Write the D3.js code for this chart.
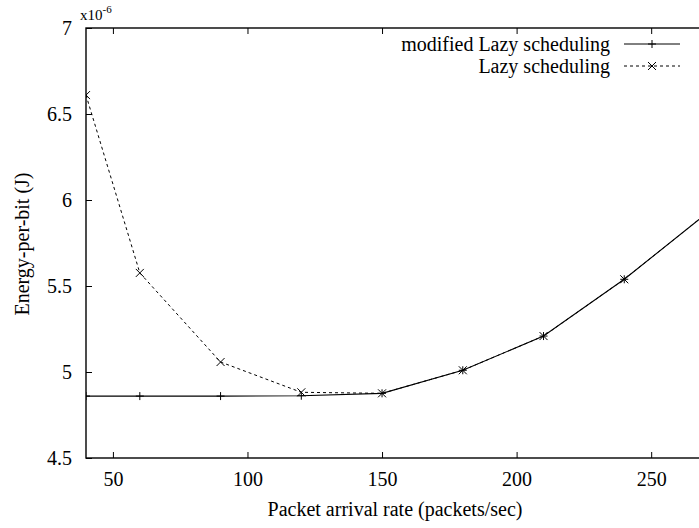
<!DOCTYPE html>
<html><head><meta charset="utf-8">
<script src="https://cdn.jsdelivr.net/npm/d3@7"></script>
<style>body{margin:0;background:#fff}svg{display:block}svg text{font-family:"Liberation Serif","Times New Roman",serif !important;fill:#000}</style>
</head><body><svg id="c" width="699" height="528" style="font-family:'Liberation Serif',serif"></svg>
<script>
const rates = [40, 60, 90, 120, 150, 180, 210, 240, 270];
const modifiedLazy = [4.86, 4.86, 4.86, 4.862, 4.876, 5.01, 5.209, 5.539, 5.915];
const lazy = [6.61, 5.576, 5.058, 4.882, 4.876, 5.01, 5.209, 5.539, 5.915];
const xTicks = [50, 100, 150, 200, 250];
const yTicks = [4.5, 5, 5.5, 6, 6.5, 7];
const seriesNames = ["modified Lazy scheduling", "Lazy scheduling"];

const svg = d3.select("#c");
const L = 86, R = 705, T = 28, B = 458;
const x = d3.scaleLinear().domain([40, 270]).range([L, R]);
const y = d3.scaleLinear().domain([4.5, 7]).range([B, T]);
const fs = 20;
const FF = "Liberation Serif";

const g = svg.append("g");
const ax = d3.axisBottom(x).tickValues(xTicks).tickSize(-6).tickPadding(14).tickFormat(d3.format("d"));
const gx = g.append("g").attr("transform", `translate(0,${B})`).call(ax);
const axTop = d3.axisTop(x).tickValues(xTicks).tickSize(-6).tickFormat("");
g.append("g").attr("transform", `translate(0,${T})`).call(axTop);
const ay = d3.axisLeft(y).tickValues(yTicks).tickSize(-6).tickPadding(14).tickFormat(d => d3.format("")(d));
const gy = g.append("g").attr("transform", `translate(${L},0)`).call(ay);
const ayR = d3.axisRight(y).tickValues(yTicks).tickSize(-6).tickFormat("");
g.append("g").attr("transform", `translate(${R},0)`).call(ayR);
g.selectAll(".domain").remove();
g.selectAll("g").attr("font-family", FF);
g.selectAll(".tick line").attr("stroke", "#000").attr("stroke-width", 1);
g.selectAll(".tick text").attr("font-size", fs).attr("font-family", FF);
gx.selectAll(".tick text").attr("dy", "0.71em");

g.append("rect").attr("x", L).attr("y", T).attr("width", R - L).attr("height", B - T)
  .attr("fill", "none").attr("stroke", "#000").attr("stroke-width", 1.4);

const mt = svg.append("text").attr("x", 80).attr("y", 20).attr("font-size", 15).attr("font-family", FF);
mt.append("tspan").text("x10");
mt.append("tspan").attr("dy", -7).attr("font-size", 11).text("-6");

svg.append("text").attr("x", 395).attr("y", 516).attr("text-anchor", "middle").attr("font-size", fs).attr("font-family", FF)
  .text("Packet arrival rate (packets/sec)");
svg.append("text").attr("transform", "translate(29,244) rotate(-90)").attr("text-anchor", "middle").attr("font-size", fs).attr("font-family", FF)
  .text("Energy-per-bit (J)");

svg.append("defs").append("clipPath").attr("id", "pc").append("rect")
  .attr("x", L).attr("y", T).attr("width", R - L).attr("height", B - T);
const pg = svg.append("g").attr("clip-path", "url(#pc)");

const line = d3.line().x((d, i) => x(rates[i])).y(d => y(d));
const plus = (sel, cx, cy, s) => {
  sel.append("path").attr("d", `M${cx - s},${cy}H${cx + s}M${cx},${cy - s}V${cy + s}`).attr("stroke", "#000").attr("stroke-width", 1).attr("fill", "none");
};
const cross = (sel, cx, cy, s) => {
  sel.append("path").attr("d", `M${cx - s},${cy - s}L${cx + s},${cy + s}M${cx - s},${cy + s}L${cx + s},${cy - s}`).attr("stroke", "#000").attr("stroke-width", 1).attr("fill", "none");
};

pg.append("path").datum(lazy).attr("d", line).attr("fill", "none").attr("stroke", "#000").attr("stroke-width", 1).attr("stroke-dasharray", "3,3");
pg.append("path").datum(modifiedLazy).attr("d", line).attr("fill", "none").attr("stroke", "#000").attr("stroke-width", 1.1);
modifiedLazy.forEach((v, i) => plus(pg, x(rates[i]), y(v), 4));
lazy.forEach((v, i) => cross(pg, x(rates[i]), y(v), 4));

const lg = svg.append("g");
const rows = [44, 66];
seriesNames.forEach((n, i) => {
  lg.append("text").attr("x", 610).attr("y", rows[i]).attr("dy", "0.33em").attr("text-anchor", "end").attr("font-size", fs).attr("font-family", FF).text(n);
  const ln = lg.append("line").attr("x1", 624).attr("x2", 680).attr("y1", rows[i]).attr("y2", rows[i]).attr("stroke", "#000").attr("stroke-width", 1);
  if (i === 1) ln.attr("stroke-dasharray", "3,3");
  if (i === 0) plus(lg, 652, rows[i], 4); else cross(lg, 652, rows[i], 4);
});
</script></body></html>
